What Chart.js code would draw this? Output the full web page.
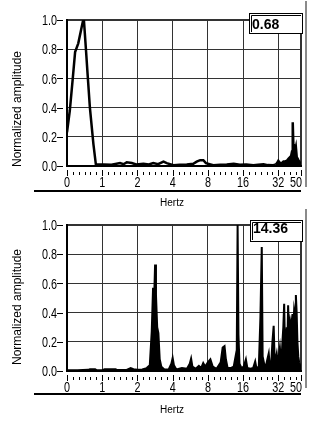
<!DOCTYPE html>
<html>
<head>
<meta charset="utf-8">
<script src="https://cdn.jsdelivr.net/npm/chart.js@4.4.1/dist/chart.umd.min.js"></script>
<style>
  html, body { margin: 0; padding: 0; background: #fff; }
  body { width: 325px; height: 424px; position: relative; overflow: hidden; }
  canvas { position: absolute; left: 0; }
</style>
</head>
<body>
<canvas id="topChart" width="325" height="212" style="top:0"></canvas>
<canvas id="bottomChart" width="325" height="219" style="top:205px"></canvas>
<script>
// axis ticks
const tickHz = [0, 1, 2, 4, 8, 16, 32, 50];
const ampTicks = [0, 0.2, 0.4, 0.6, 0.8, 1.0];
const readouts = ['0.68', '14.36'];

// upper spectrum
const topHz = [0, 0.08, 0.16, 0.23, 0.32, 0.45, 0.48, 0.54, 0.59, 0.65,
  0.75, 0.82, 1.03, 1.2, 1.42, 1.52, 1.62, 1.79, 1.95, 2.25,
  2.5, 2.73, 3.0, 3.34, 3.56, 4.06, 4.6, 5.28, 6.0, 6.42,
  6.87, 7.32, 7.7, 8.9, 10.2, 11.6, 13.3, 15.0, 17.0, 19.6,
  21.5, 23.9, 26.0, 29.0, 30.5, 31.2, 32.0, 33.0, 34.3, 35.4,
  36.5, 37.5, 38.3, 39.2, 40.3, 41.2, 41.9, 42.5, 43.0, 43.4,
  44.3, 45.2, 46.0, 46.8, 47.5, 48.4, 49.2, 50];
const topAmp = [0.23, 0.38, 0.59, 0.78, 0.84, 0.99, 1.0, 0.79, 0.61, 0.40,
  0.15, 0.01, 0.01, 0.008, 0.02, 0.012, 0.025, 0.02, 0.01, 0.015,
  0.01, 0.02, 0.012, 0.03, 0.02, 0.005, 0.008, 0.01, 0.015, 0.03,
  0.04, 0.04, 0.02, 0.005, 0.008, 0.01, 0.015, 0.008, 0.01, 0.005,
  0.008, 0.012, 0.006, 0.005, 0.01, 0.02, 0.035, 0.02, 0.02, 0.03,
  0.03, 0.035, 0.04, 0.05, 0.06, 0.07, 0.10, 0.30, 0.15, 0.12,
  0.10, 0.13, 0.06, 0.05, 0.04, 0.03, 0.02, 0.01];

// lower spectrum
const bottomHz = [0, 0.3, 0.6, 0.65, 0.8, 0.85, 1.0, 1.05, 1.3, 1.35,
  1.6, 1.75, 1.85, 2.0, 2.2, 2.4, 2.55, 2.65, 2.72, 2.78,
  2.83, 2.88, 2.95, 3.02, 3.1, 3.2, 3.4, 3.7, 3.9, 4.0,
  4.1, 4.3, 4.8, 5.3, 5.6, 5.75, 5.9, 6.3, 6.7, 7.0,
  7.3, 7.6, 8.0, 8.4, 8.8, 9.5, 10.3, 10.7, 11.1, 11.4,
  11.8, 12.5, 13.3, 13.8, 14.1, 14.36, 14.6, 14.9, 15.5, 16.2,
  16.9, 17.4, 18.5, 19.5, 20.3, 20.8, 21.8, 22.5, 23.1, 23.5,
  24.2, 25.0, 25.8, 26.5, 27.0, 27.8, 28.5, 29.2, 29.7, 30.3,
  31.0, 31.5, 32.3, 33.0, 33.6, 34.2, 34.7, 35.3, 35.9, 36.5,
  37.2, 37.8, 38.3, 38.8, 39.5, 40.4, 41.2, 42.3, 43.0, 43.7,
  44.5, 45.2, 45.9, 46.6, 47.4, 48.2, 49.1, 50];
const bottomAmp = [0.005, 0.005, 0.008, 0.012, 0.012, 0.005, 0.005, 0.012, 0.012, 0.006,
  0.006, 0.02, 0.012, 0.008, 0.01, 0.02, 0.04, 0.27, 0.57, 0.50,
  0.73, 0.52, 0.30, 0.26, 0.08, 0.03, 0.01, 0.01, 0.05, 0.09,
  0.04, 0.01, 0.02, 0.015, 0.05, 0.085, 0.03, 0.015, 0.035, 0.02,
  0.055, 0.03, 0.06, 0.08, 0.03, 0.015, 0.06, 0.16, 0.17, 0.08,
  0.02, 0.02, 0.03, 0.10, 0.05, 1.0, 0.25, 0.05, 0.02, 0.03,
  0.08, 0.02, 0.015, 0.02, 0.065, 0.02, 0.03, 0.37, 0.85, 0.10,
  0.05, 0.03, 0.08, 0.12, 0.04, 0.05, 0.20, 0.31, 0.10, 0.08,
  0.12, 0.07, 0.10, 0.16, 0.08, 0.10, 0.20, 0.30, 0.46, 0.15,
  0.20, 0.30, 0.20, 0.45, 0.25, 0.34, 0.30, 0.39, 0.30, 0.42,
  0.38, 0.52, 0.40, 0.20, 0.10, 0.06, 0.04, 0.02];

// frequency axis is linear up to 1 Hz, then one step per octave
function hzToAxis(f) {
  return f <= 1 ? f : 1 + Math.log2(f);
}

const SANS = "'Liberation Sans', Arial, sans-serif";

// tall, narrow tick numerals
function narrowText(ctx, text, x, y, align) {
  ctx.save();
  ctx.translate(x, y);
  ctx.scale(0.72, 1);
  ctx.textAlign = align;
  ctx.fillText(text, 0, 0);
  ctx.restore();
}

// ticks, tick labels, axis titles, readout box and panel edges
const spectrumFrame = {
  id: 'spectrumFrame',
  afterDraw(chart, args, opts) {
    const ctx = chart.ctx;
    const xs = chart.scales.x, ys = chart.scales.y;
    const area = chart.chartArea;
    ctx.save();
    ctx.strokeStyle = '#000';
    ctx.lineWidth = 1;
    ctx.beginPath();
    for (let k = 1; k / 6 < xs.max; k++) {
      if (k % 6 === 0) continue;
      const px = Math.round(xs.getPixelForValue(k / 6)) + 0.5;
      ctx.moveTo(px, area.bottom + 6);
      ctx.lineTo(px, area.bottom + 9);
    }
    tickHz.forEach(h => {
      const px = Math.round(xs.getPixelForValue(hzToAxis(h))) + 0.5;
      ctx.moveTo(px, area.bottom + 4);
      ctx.lineTo(px, area.bottom + 10);
    });
    ampTicks.forEach(v => {
      const py = Math.round(ys.getPixelForValue(v)) + 0.5;
      ctx.moveTo(area.left - 10, py);
      ctx.lineTo(area.left - 4, py);
    });
    ctx.stroke();

    // tick labels; the last one sits flush against the right edge
    ctx.fillStyle = '#000';
    ctx.font = '15px ' + SANS;
    ctx.textBaseline = 'alphabetic';
    tickHz.forEach((h, i) => {
      const last = i === tickHz.length - 1;
      const px = xs.getPixelForValue(hzToAxis(h));
      narrowText(ctx, String(h), last ? px + 1 : px, area.bottom + 21, last ? 'right' : 'center');
    });
    ctx.textBaseline = 'middle';
    ampTicks.forEach(v => {
      narrowText(ctx, v.toFixed(1), area.left - 10, ys.getPixelForValue(v) + 1, 'right');
    });

    // panel edges
    ctx.fillRect(34, opts.baseY, area.right - 34, 2);
    ctx.fillStyle = '#8a8a8a';
    ctx.fillRect(305, opts.edgeTop, 2, opts.edgeBottom - opts.edgeTop);

    // axis titles
    ctx.fillStyle = '#000';
    ctx.textAlign = 'center';
    ctx.textBaseline = 'middle';
    ctx.font = '10px ' + SANS;
    ctx.fillText('Hertz', 172, opts.hertzY);
    ctx.font = '12px ' + SANS;
    ctx.translate(18, opts.titleY);
    ctx.rotate(-Math.PI / 2);
    ctx.fillText('Normalized amplitude', 0, 0);
    ctx.setTransform(1, 0, 0, 1, 0, 0);

    // readout box
    const b = opts.box;
    ctx.fillStyle = '#fff';
    ctx.fillRect(b.x, b.y, b.w, b.h);
    ctx.strokeStyle = '#000';
    ctx.lineWidth = 1;
    ctx.strokeRect(b.x + 0.5, b.y + 0.5, b.w - 1, b.h - 1);
    ctx.beginPath();
    ctx.moveTo(b.x + 2.5, b.y + b.h - 2);
    ctx.lineTo(b.x + 2.5, b.y + 2.5);
    ctx.lineTo(b.x + b.w - 2, b.y + 2.5);
    ctx.stroke();
    ctx.fillStyle = '#000';
    ctx.font = 'bold 14px ' + SANS;
    ctx.textAlign = 'left';
    ctx.textBaseline = 'alphabetic';
    ctx.fillText(opts.readout, b.x + 3, b.textY);
    ctx.restore();
  }
};

function spectrumChart(id, hz, amp, fillAll, frame) {
  const points = hz.map((f, i) => ({ x: hzToAxis(f), y: amp[i] }));
  const highBand = hzToAxis(30);
  return new Chart(document.getElementById(id), {
    type: 'line',
    data: {
      datasets: [{
        data: points,
        borderColor: '#000',
        borderWidth: fillAll ? 2 : 2.5,
        backgroundColor: '#000',
        fill: 'origin',
        pointRadius: 0,
        tension: 0,
        segment: fillAll ? undefined : {
          backgroundColor: c => c.p0.parsed.x >= highBand ? '#000' : 'rgba(0,0,0,0)'
        }
      }]
    },
    options: {
      responsive: false,
      animation: false,
      layout: { padding: { top: 20, right: 24, left: 0, bottom: frame.padBottom } },
      plugins: {
        legend: { display: false },
        tooltip: { enabled: false },
        spectrumFrame: frame
      },
      scales: {
        x: {
          type: 'linear',
          min: 0,
          max: hzToAxis(50),
          afterBuildTicks: s => { s.ticks = tickHz.map(h => ({ value: hzToAxis(h) })); },
          afterFit: s => { s.height = 39; },
          ticks: { display: false },
          grid: {
            drawTicks: false,
            color: '#333',
            lineWidth: c => (c.index === tickHz.length - 1 ? 2 : 1)
          },
          border: { color: '#000', width: 2 }
        },
        y: {
          min: 0,
          max: 1,
          afterBuildTicks: s => { s.ticks = ampTicks.map(v => ({ value: v })); },
          afterFit: s => { s.width = 67; },
          ticks: { display: false },
          grid: {
            drawTicks: false,
            color: '#333',
            lineWidth: c => (c.index === ampTicks.length - 1 ? 2 : 1)
          },
          border: { color: '#000', width: 2 }
        }
      }
    },
    plugins: [spectrumFrame]
  });
}

spectrumChart('topChart', topHz, topAmp, false, {
  readout: readouts[0], padBottom: 7, baseY: 190, edgeTop: 1, edgeBottom: 187,
  hertzY: 203, titleY: 109, box: { x: 249, y: 13, w: 54, h: 21, textY: 29 }
});
spectrumChart('bottomChart', bottomHz, bottomAmp, true, {
  readout: readouts[1], padBottom: 14, baseY: 188, edgeTop: 4, edgeBottom: 183,
  hertzY: 205, titleY: 102, box: { x: 250, y: 15, w: 53, h: 22, textY: 28 }
});
</script>
</body>
</html>
